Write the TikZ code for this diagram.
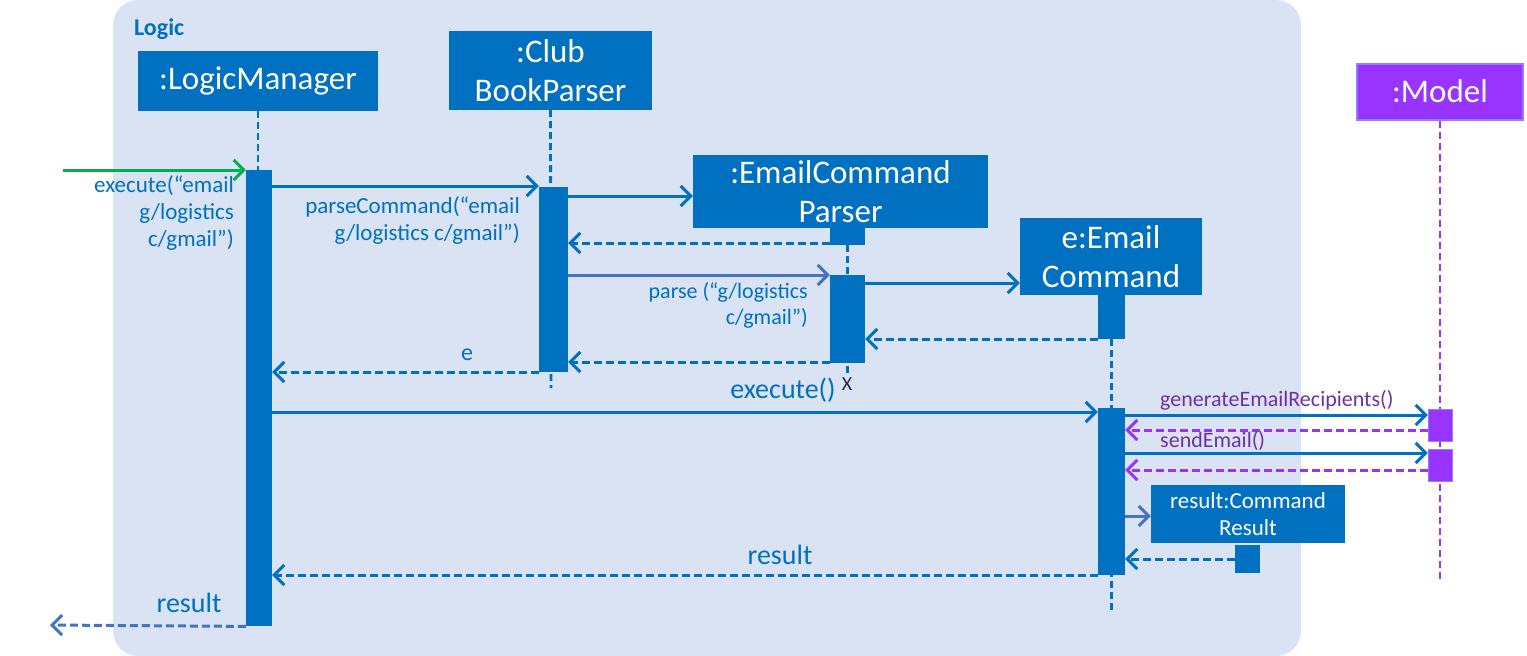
\documentclass[tikz,border=0pt]{standalone}
\usepackage{fontspec}
\setmainfont{Carlito}
\usetikzlibrary{arrows.meta}
\definecolor{bblue}{HTML}{0070C0}
\definecolor{lblue}{HTML}{4472C4}
\definecolor{bgc}{HTML}{DAE3F3}
\definecolor{ggreen}{HTML}{00B050}
\definecolor{mpurple}{HTML}{9933FF}
\definecolor{tpurple}{HTML}{7030A0}
\definecolor{mborder}{HTML}{8F7FFF}
\definecolor{xnavy}{HTML}{1F2A50}
\begin{document}
\begin{tikzpicture}[x=1pt,y=-1pt,
 obj/.style={fill=bblue, text=white, inner sep=0pt, font=\fontsize{33}{39}\selectfont, align=center},
 mobj/.style={obj, fill=mpurple, draw=mborder, line width=2pt},
 act/.style={fill=bblue, inner sep=0pt, anchor=north},
 mact/.style={act, fill=mpurple, draw=mborder, line width=1.5pt},
 life/.style={draw=bblue, line width=2.8pt, dash pattern=on 7pt off 4pt},
 mlife/.style={life, draw=mpurple},
 msg/.style={draw=bblue, line width=3pt, -{Straight Barb[length=10pt,width=20pt,line width=3pt]}},
 ret/.style={msg, dash pattern=on 8pt off 4pt},
 lbl/.style={text=bblue, font=\fontsize{23}{27}\selectfont, inner sep=0pt},
 biglbl/.style={text=bblue, font=\fontsize{28}{32}\selectfont, inner sep=0pt},
 plbl/.style={text=tpurple, font=\fontsize{22}{26}\selectfont, inner sep=0pt, anchor=west}
]
\useasboundingbox (0,0) rectangle (1527,656);
\fill[bgc, rounded corners=25pt] (113,0) rectangle (1301,656);
\node[text=bblue, font=\fontsize{24}{28}\selectfont\bfseries, anchor=west, inner sep=0pt] (logic) at (134,29) {Logic};

% objects
\node[obj, minimum width=240pt, minimum height=60pt] (lm) at (258,81) {:LogicManager};
\node[obj, minimum width=203pt, minimum height=79pt] (cb) at (550.5,70.5) {:Club\\BookParser};
\node[obj, minimum width=295pt, minimum height=73pt] (ecp) at (840.5,191.5) {:EmailCommand\\Parser};
\node[act, minimum width=35pt, minimum height=18pt] (ecpS) at (847.5,227) {};
\node[obj, minimum width=182pt, minimum height=77pt] (ec) at (1111,256.5) {e:Email\\Command};
\node[act, minimum width=27pt, minimum height=45pt] (ecS) at (1111.5,294) {};
\node[mobj, minimum width=166pt, minimum height=56pt] (md) at (1440,91.5) {:Model};
\node[obj, minimum width=194pt, minimum height=58pt, font=\fontsize{23}{27}\selectfont] (cr) at (1248,514) {result:Command\\Result};
\node[act, minimum width=25pt, minimum height=28pt] (crS) at (1247.5,545) {};

% lifeline ends
\coordinate (cbEnd) at (551,388);
\coordinate (ecpEnd) at (847.5,377);
\coordinate (ecEnd) at (1111.5,612);
\coordinate (mdEnd) at (1440,582);

% lifelines
\draw[life] (lm.south) -- (258,170);
\draw[life] (cb.south) -- (cbEnd);
\draw[life] (ecpS.south) -- (ecpEnd);
\draw[life] (ecS.south) -- (ecEnd);
\draw[mlife] (md.south) -- (mdEnd);

% activations
\node[act, minimum width=26pt, minimum height=456pt] (lmA) at (259,170) {};
\node[act, minimum width=29pt, minimum height=185pt] (cbA) at (553.5,187) {};
\node[act, minimum width=35pt, minimum height=88pt] (ecpA) at (847.5,275) {};
\node[act, minimum width=27pt, minimum height=167pt] (ecA) at (1111.5,408) {};
\node[mact, minimum width=24pt, minimum height=32pt] (mA1) at (1440.5,408.5) {};
\node[mact, minimum width=24pt, minimum height=32pt] (mA2) at (1440.5,448.5) {};
\node[text=xnavy, font=\fontsize{20}{22}\selectfont, inner sep=0pt] (xm) at (847,384) {X};

% messages
\coordinate (start) at (63,170);
\draw[msg, draw=ggreen] (start) -- (lmA.north west);
\node[lbl, anchor=north east, align=right] (l1) at (234,175) {execute(“email\\g/logistics\\c/gmail”)};

\draw[msg] (lmA.east |- 0,186) -- (cbA.west |- 0,186);
\node[lbl, anchor=north east, align=right] (l2) at (520,196) {parseCommand(“email\\g/logistics c/gmail”)};

\draw[msg] (cbA.east |- 0,196) -- (ecp.west |- 0,196);
\draw[ret] (ecpS.west |- 0,243) -- (cbA.east |- 0,243);

\draw[msg, draw=lblue] (cbA.east |- 0,275) -- (ecpA.west |- 0,275);
\node[lbl, anchor=north east, align=right, font=\fontsize{22}{26}\selectfont] (l3) at (808,282) {parse (“g/logistics\\c/gmail”)};

\draw[msg] (ecpA.east |- 0,283) -- (ec.west |- 0,283);
\draw[ret] (ecS.west |- 0,339) -- (ecpA.east |- 0,339);
\draw[ret] (ecpA.west |- 0,362) -- (cbA.east |- 0,362);
\draw[ret] (cbA.west |- 0,372) -- (lmA.east |- 0,372);
\node[lbl, font=\fontsize{24}{28}\selectfont] (le) at (467,355) {e};

\draw[msg] (lmA.east |- 0,412) -- (ecA.west |- 0,412);
\node[biglbl] (l4) at (783,390) {execute()};

\draw[msg] (ecA.east |- 0,415) -- (mA1.west |- 0,415);
\node[plbl] (l5) at (1160,400) {generateEmailRecipients()};
\draw[ret, draw=mpurple] (mA1.west |- 0,430) -- (ecA.east |- 0,430);

\draw[msg] (ecA.east |- 0,453) -- (mA2.west |- 0,453);
\node[plbl] (l6) at (1160,441) {sendEmail()};
\draw[ret, draw=mpurple] (mA2.west |- 0,470) -- (ecA.east |- 0,470);

\draw[msg, draw=lblue] (ecA.east |- 0,516) -- (cr.west |- 0,516);
\draw[ret] (crS.west |- 0,559) -- (ecA.east |- 0,559);

\draw[ret] (ecA.west |- 0,575) -- (lmA.east |- 0,575);
\node[biglbl] (l7) at (780,555) {result};

\coordinate (endpt) at (50,625);
\draw[ret, draw=lblue] (lmA.south west) -- (endpt);
\node[biglbl] (l8) at (189,603) {result};
\end{tikzpicture}
\end{document}
